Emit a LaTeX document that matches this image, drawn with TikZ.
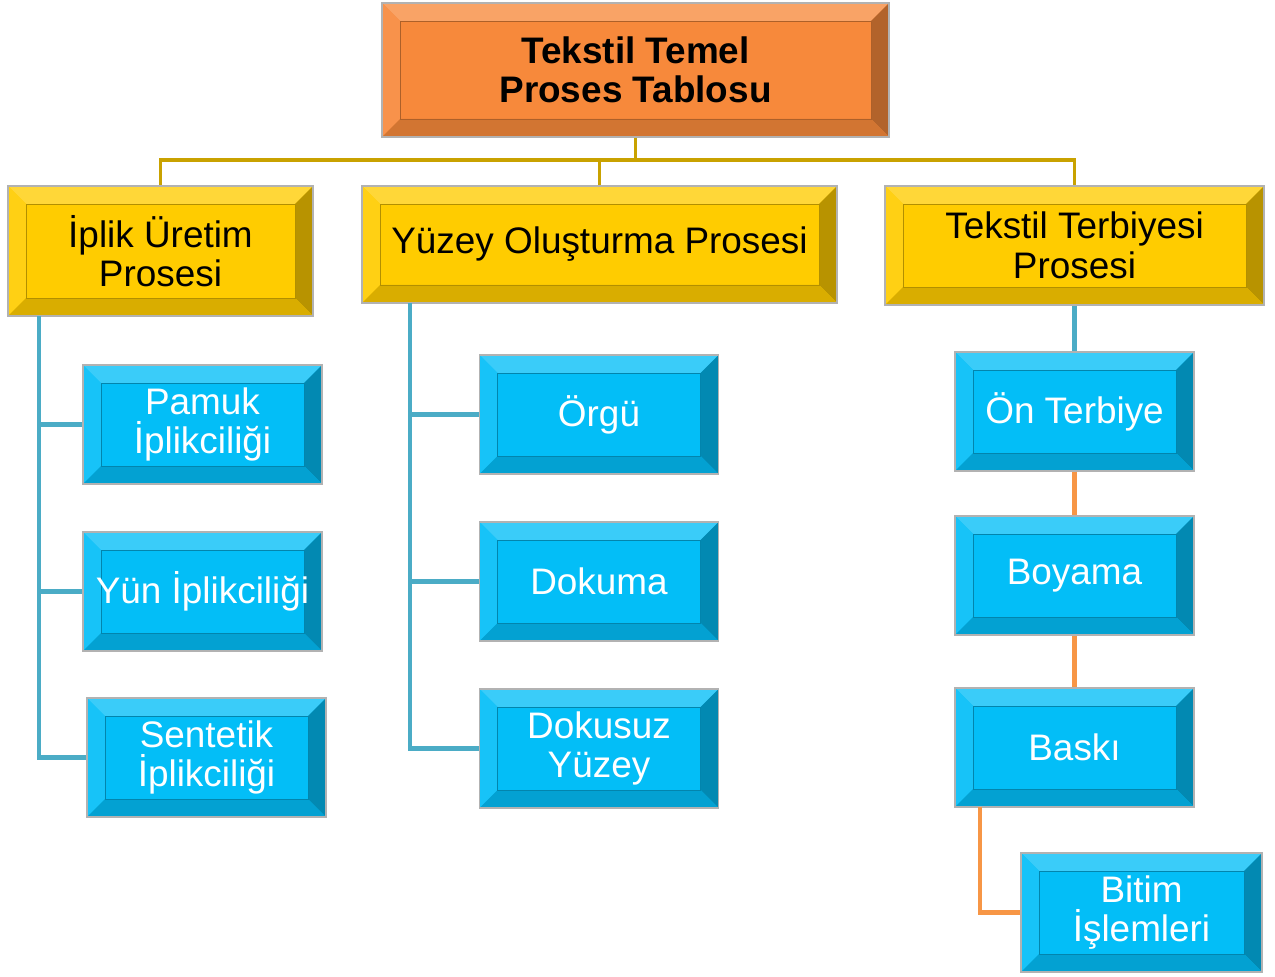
\documentclass[tikz,border=0pt]{standalone}
\usepackage{fontspec}
\setmainfont{Liberation Sans}
\definecolor{rootorange}{HTML}{F7893B}
\definecolor{headyellow}{HTML}{FFCC00}
\definecolor{leafblue}{HTML}{03BEF7}
\definecolor{tealline}{HTML}{4BACC6}
\definecolor{orangeline}{HTML}{F79646}
\definecolor{goldline}{HTML}{C9A200}
\tikzset{
  bevelbox/.style={draw=gray!60, line width=0.8pt, fill=#1, align=center, inner sep=0pt,
    minimum width=4.78cm, minimum height=2.38cm, font=\fontsize{21}{22.5}\selectfont,
    path picture={
      \coordinate (pnw) at (path picture bounding box.north west);
      \coordinate (pne) at (path picture bounding box.north east);
      \coordinate (psw) at (path picture bounding box.south west);
      \coordinate (pse) at (path picture bounding box.south east);
      \fill[#1!78!white] (pnw) -- (pne) -- ([shift={(-\bv,-\bv)}]pne) -- ([shift={(\bv,-\bv)}]pnw) -- cycle;
      \fill[#1!92!white] (pnw) -- ([shift={(\bv,-\bv)}]pnw) -- ([shift={(\bv,\bv)}]psw) -- (psw) -- cycle;
      \fill[#1!72!black] (pne) -- (pse) -- ([shift={(-\bv,\bv)}]pse) -- ([shift={(-\bv,-\bv)}]pne) -- cycle;
      \fill[#1!85!black] (psw) -- (pse) -- ([shift={(-\bv,\bv)}]pse) -- ([shift={(\bv,\bv)}]psw) -- cycle;
      \draw[#1!70!black, line width=0.5pt] ([shift={(\bv,-\bv)}]pnw) rectangle ([shift={(-\bv,\bv)}]pse);
    }},
  leaf/.style={bevelbox=leafblue, text=white},
  head/.style={bevelbox=headyellow, text=black},
}
\begin{document}
\begin{tikzpicture}

\def\bv{0.36cm}

\path [use as bounding box] (0,0) rectangle (25.5,-19.52);

% ROOT
\node [bevelbox=rootorange, minimum width=10.14cm, minimum height=2.68cm, font=\fontsize{21}{22.5}\selectfont\bfseries] (root) at (12.71,-1.40) {Tekstil Temel\\Proses Tablosu};

% LEVEL TWO
\node [head, minimum width=6.10cm, minimum height=2.60cm] (iplik) at (3.21,-5.02) {İplik Üretim\\Prosesi};
\node [head, minimum width=9.50cm, minimum height=2.34cm] (yuzey) at (11.99,-4.89) {Yüzey Oluşturma Prosesi};
\node [head, minimum width=7.58cm, minimum height=2.38cm] (terbiye) at (21.49,-4.91) {Tekstil Terbiyesi\\Prosesi};

% LEFT BRANCH
\node [leaf] (pamuk) at (4.05,-8.49) {Pamuk\\İplikciliği};
\node [leaf] (yun) at (4.05,-11.83) {Yün İplikciliği};
\node [leaf] (sentetik) at (4.13,-15.15) {Sentetik\\İplikciliği};

% MIDDLE BRANCH
\node [leaf] (orgu) at (11.98,-8.29) {Örgü};
\node [leaf] (dokuma) at (11.98,-11.63) {Dokuma};
\node [leaf] (dokusuz) at (11.98,-14.97) {Dokusuz\\Yüzey};

% RIGHT BRANCH
\node [leaf] (on) at (21.49,-8.23) {Ön Terbiye};
\node [leaf] (boyama) at (21.49,-11.51) {Boyama};
\node [leaf] (baski) at (21.49,-14.95) {Baskı};
\node [leaf, minimum width=4.82cm] (bitim) at (22.83,-18.25) {Bitim\\İşlemleri};

% CONNECTORS
\coordinate (bus) at (12.71,-3.20);
\draw [goldline, line width=1.8pt] (root.south) -- (bus);
\draw [goldline, line width=1.8pt] (bus) -| (iplik.north);
\draw [goldline, line width=1.8pt] (bus) -| (yuzey.north);
\draw [goldline, line width=1.8pt] (bus) -| (terbiye.north);

\coordinate (ltop) at (0.78,-6.32);
\draw [tealline, line width=2.3pt] (ltop) |- (pamuk.west);
\draw [tealline, line width=2.3pt] (ltop) |- (yun.west);
\draw [tealline, line width=2.3pt] (ltop) |- (sentetik.west);

\coordinate (mtop) at (8.20,-6.06);
\draw [tealline, line width=2.3pt] (mtop) |- (orgu.west);
\draw [tealline, line width=2.3pt] (mtop) |- (dokuma.west);
\draw [tealline, line width=2.3pt] (mtop) |- (dokusuz.west);

\draw [tealline, line width=2.3pt] (terbiye.south) -- (on.north);
\draw [orangeline, line width=2.3pt] (on.south) -- (boyama.north);
\draw [orangeline, line width=2.3pt] (boyama.south) -- (baski.north);
\coordinate (rturn) at (19.60,-16.14);
\draw [orangeline, line width=2.3pt] (rturn) |- (bitim.west);

\end{tikzpicture}
\end{document}
